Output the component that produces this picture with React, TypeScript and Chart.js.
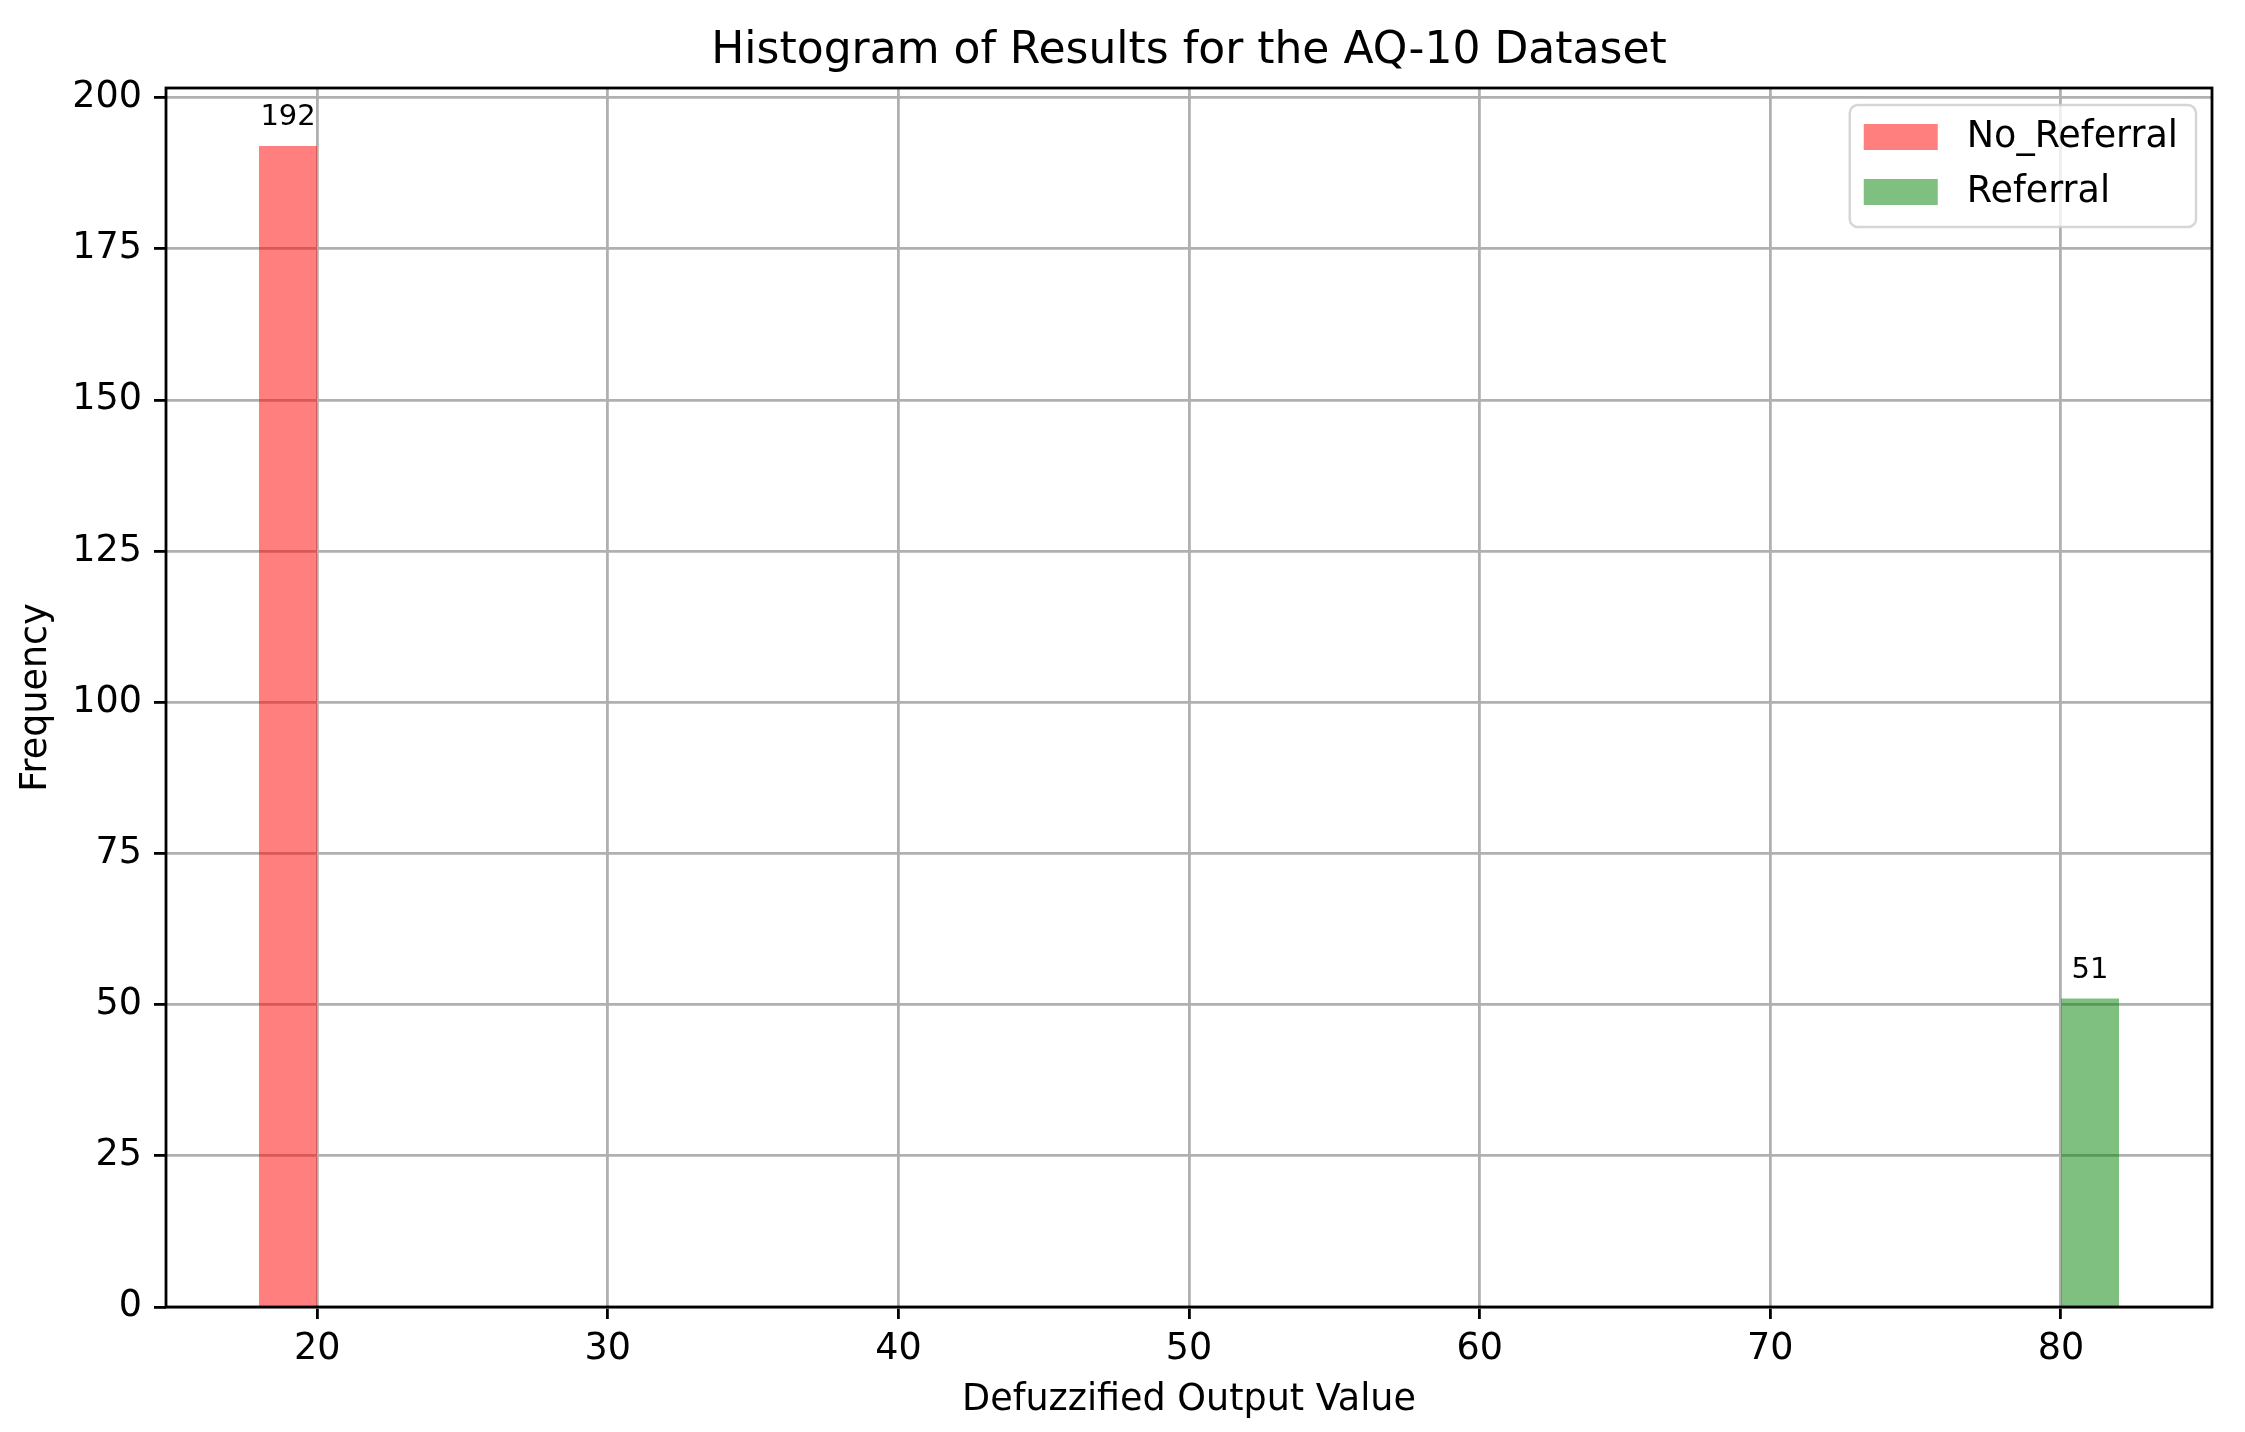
import React, { useEffect, useRef } from 'react';
import { Chart, registerables } from 'chart.js';

Chart.register(...registerables);

const chartTitle = 'Histogram of Results for the AQ-10 Dataset';
const xAxisTitle = 'Defuzzified Output Value';
const yAxisTitle = 'Frequency';
const seriesLabels = ['No_Referral', 'Referral'];
const seriesColors = ['rgba(255,0,0,0.5)', 'rgba(0,128,0,0.5)'];
const noReferralBinEdges = [18, 20];
const noReferralCounts = [192];
const referralBinEdges = [80, 82];
const referralCounts = [51];
const xTickValues = [20, 30, 40, 50, 60, 70, 80];
const yTickValues = [0, 25, 50, 75, 100, 125, 150, 175, 200];
const xRange = [14.8, 85.2];
const yRange = [0, 201.6];

const FONT = '"DejaVu Sans", sans-serif';
const W = 2245;
const H = 1432;
const BASE = 36.5;

function histogramOutline(edges: number[], counts: number[]) {
  const pts: { x: number; y: number }[] = [];
  counts.forEach((c, i) => {
    pts.push({ x: edges[i], y: 0 });
    pts.push({ x: edges[i], y: c });
    pts.push({ x: edges[i + 1], y: c });
    pts.push({ x: edges[i + 1], y: 0 });
  });
  return pts;
}

const overlayPlugin = {
  id: 'overlay',
  afterDraw(chart: any) {
    const { ctx, chartArea, scales } = chart;
    const xs = scales.x;
    const ys = scales.y;
    ctx.save();
    // title centred over the axes
    ctx.fillStyle = '#000';
    ctx.font = `normal 44px ${FONT}`;
    ctx.textAlign = 'center';
    ctx.textBaseline = 'middle';
    ctx.fillText(chartTitle, (chartArea.left + chartArea.right) / 2, 52);

    // bar value labels
    ctx.font = `normal 29px ${FONT}`;
    ctx.textBaseline = 'alphabetic';
    chart.data.datasets.forEach((ds: any) => {
      const edges: number[] = ds.binEdges;
      const counts: number[] = ds.counts;
      counts.forEach((c, i) => {
        const cx = xs.getPixelForValue((edges[i] + edges[i + 1]) / 2);
        const cy = ys.getPixelForValue(c) - 21;
        ctx.fillText(String(c), cx, cy);
      });
    });

    // frame
    ctx.strokeStyle = '#000';
    ctx.lineWidth = 2.8;
    ctx.strokeRect(chartArea.left, chartArea.top, chartArea.right - chartArea.left, chartArea.bottom - chartArea.top);

    // legend
    ctx.font = `normal ${BASE}px ${FONT}`;
    const textW = Math.max(...chart.data.datasets.map((d: any) => ctx.measureText(d.label).width));
    const padL = 14, handleW = 74, gap = 29, padR = 18;
    const boxW = padL + handleW + gap + textW + padR;
    const boxH = 122;
    const boxRight = chartArea.right - 16;
    const boxLeft = boxRight - boxW;
    const boxTop = chartArea.top + 17;
    ctx.beginPath();
    if ((ctx as any).roundRect) (ctx as any).roundRect(boxLeft, boxTop, boxW, boxH, 8);
    else ctx.rect(boxLeft, boxTop, boxW, boxH);
    ctx.fillStyle = 'rgba(255,255,255,0.8)';
    ctx.fill();
    ctx.strokeStyle = 'rgba(204,204,204,0.8)';
    ctx.lineWidth = 2.5;
    ctx.stroke();
    chart.data.datasets.forEach((d: any, i: number) => {
      const cy = boxTop + 32 + i * 55;
      ctx.fillStyle = d.backgroundColor;
      ctx.fillRect(boxLeft + padL, cy - 13, handleW, 26);
      ctx.fillStyle = '#000';
      ctx.textAlign = 'left';
      ctx.textBaseline = 'middle';
      ctx.fillText(d.label, boxLeft + padL + handleW + gap, cy + 1);
    });
    ctx.restore();
  },
};

export default function App() {
  const ref = useRef<HTMLCanvasElement | null>(null);
  useEffect(() => {
    if (!ref.current) return;
    Chart.defaults.color = '#000';
    Chart.defaults.font.family = FONT;
    const chart = new Chart(ref.current, {
      type: 'line',
      data: {
        datasets: [
          {
            label: seriesLabels[0],
            data: histogramOutline(noReferralBinEdges, noReferralCounts),
            backgroundColor: seriesColors[0],
            borderColor: 'rgba(0,0,0,0)',
            borderWidth: 0,
            pointRadius: 0,
            fill: 'origin',
            tension: 0,
            binEdges: noReferralBinEdges,
            counts: noReferralCounts,
          } as any,
          {
            label: seriesLabels[1],
            data: histogramOutline(referralBinEdges, referralCounts),
            backgroundColor: seriesColors[1],
            borderColor: 'rgba(0,0,0,0)',
            borderWidth: 0,
            pointRadius: 0,
            fill: 'origin',
            tension: 0,
            binEdges: referralBinEdges,
            counts: referralCounts,
          } as any,
        ],
      },
      options: {
        animation: false,
        responsive: false,
        devicePixelRatio: 1,
        layout: { padding: { top: 88, right: 33, left: 0, bottom: 0 } },
        plugins: {
          legend: { display: false },
          title: { display: false },
          tooltip: { enabled: false },
        },
        scales: {
          x: {
            type: 'linear',
            min: xRange[0],
            max: xRange[1],
            z: 1,
            afterBuildTicks: (s: any) => {
              s.ticks = xTickValues.map((v) => ({ value: v }));
            },
            afterFit: (s: any) => {
              s.height = 125;
            },
            grid: { color: '#b0b0b0', lineWidth: 2.8, tickColor: '#000', tickWidth: 2.8, tickLength: 12 },
            border: { display: false },
            ticks: { font: { size: BASE, family: FONT }, color: '#000', padding: 9, maxRotation: 0 },
            title: { display: true, text: xAxisTitle, font: { size: BASE, family: FONT }, color: '#000', padding: { top: 0, bottom: 10 } },
          },
          y: {
            type: 'linear',
            min: yRange[0],
            max: yRange[1],
            z: 1,
            afterBuildTicks: (s: any) => {
              s.ticks = yTickValues.map((v) => ({ value: v }));
            },
            afterFit: (s: any) => {
              s.width = 166;
            },
            grid: { color: '#b0b0b0', lineWidth: 2.8, tickColor: '#000', tickWidth: 2.8, tickLength: 12 },
            border: { display: false },
            ticks: { font: { size: BASE, family: FONT }, color: '#000', padding: 12 },
            title: { display: true, text: yAxisTitle, font: { size: BASE, family: FONT }, color: '#000', padding: { top: 15, bottom: 0 } },
          },
        },
      } as any,
      plugins: [overlayPlugin],
    });
    return () => chart.destroy();
  }, []);
  return (
    <div style={{ position: 'absolute', left: 0, top: 0, width: W, height: H, background: '#fff' }}>
      <canvas ref={ref} width={W} height={H} style={{ display: 'block', width: W, height: H }} />
    </div>
  );
}
